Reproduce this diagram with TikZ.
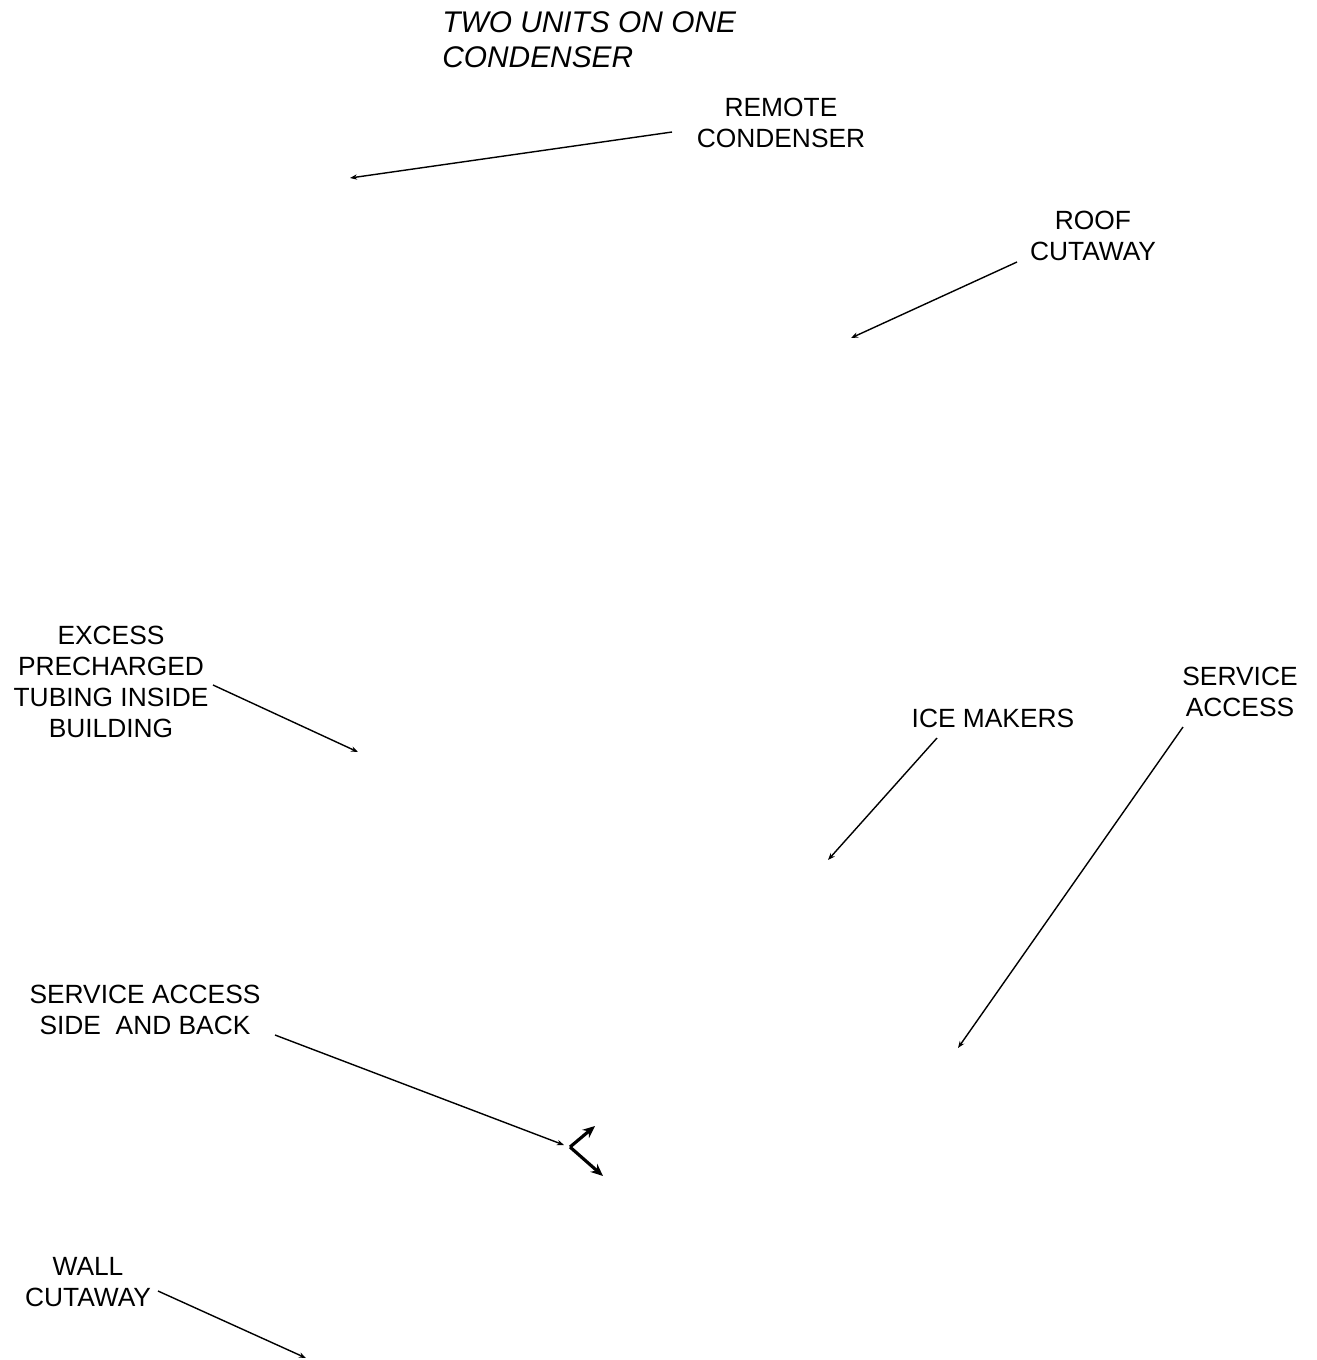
\documentclass[tikz,border=0pt]{standalone}
\usepackage{fontspec}
\setmainfont{Liberation Sans}
\usetikzlibrary{arrows.meta}

\tikzset{
	lbl/.style={align=center,inner sep=0pt,font=\fontsize{15}{17.5}\selectfont},
	ttl/.style={align=left,inner sep=0pt,anchor=north west,font=\fontsize{17}{20}\selectfont\itshape},
	ptr/.style={line width=0.8pt,-{Stealth[length=4pt,width=3pt]}},
	bigptr/.style={line width=1.8pt,-{Stealth[length=7pt,width=6pt]}}
}

\begin{document}
\begin{tikzpicture}[x=0.02cm,y=-0.02cm]
	\useasboundingbox (0,0) rectangle (1317,1360);
	
	\node[ttl] (title) at (442,11) {TWO UNITS ON ONE\\CONDENSER};
	\node[lbl] (remote) at (781,123) {REMOTE\\CONDENSER};
	\node[lbl] (roof) at (1093,236) {ROOF\\CUTAWAY};
	\node[lbl] (excess) at (111,682) {EXCESS\\PRECHARGED\\TUBING INSIDE\\BUILDING};
	\node[lbl] (ice) at (993,718) {ICE MAKERS};
	\node[lbl] (access) at (1240,692) {SERVICE\\ACCESS};
	\node[lbl] (sideback) at (145,1010) {SERVICE ACCESS\\SIDE\ \ AND BACK};
	\node[lbl] (wall) at (88,1282) {WALL\\CUTAWAY};
	
	\coordinate (remote-t) at (672,132);
	\coordinate (remote-h) at (350,178);
	\coordinate (roof-t) at (1017,262);
	\coordinate (roof-h) at (851,338);
	\coordinate (excess-t) at (213,685);
	\coordinate (excess-h) at (358,752);
	\coordinate (ice-t) at (937,738);
	\coordinate (ice-h) at (828,860);
	\coordinate (access-t) at (1183,727);
	\coordinate (access-h) at (958,1048);
	\coordinate (sideback-t) at (275,1035);
	\coordinate (sideback-h) at (564,1145);
	\coordinate (fork) at (570,1147);
	\coordinate (fork-up) at (595,1126);
	\coordinate (fork-down) at (603,1176);
	\coordinate (wall-t) at (158,1291);
	\coordinate (wall-h) at (306,1358);
	
	\draw[ptr] (remote-t) -- (remote-h);
	\draw[ptr] (roof-t) -- (roof-h);
	\draw[ptr] (excess-t) -- (excess-h);
	\draw[ptr] (ice-t) -- (ice-h);
	\draw[ptr] (access-t) -- (access-h);
	\draw[ptr] (sideback-t) -- (sideback-h);
	\draw[bigptr] (fork) -- (fork-up);
	\draw[bigptr] (fork) -- (fork-down);
	\draw[ptr] (wall-t) -- (wall-h);
\end{tikzpicture}
\end{document}
